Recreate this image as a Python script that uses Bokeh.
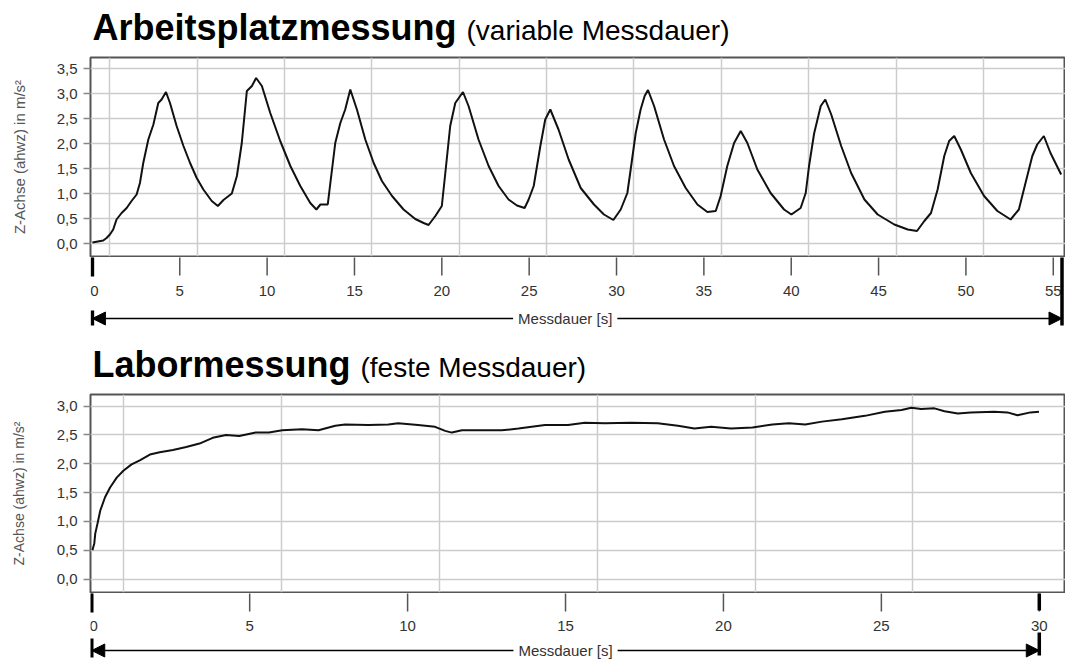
from bokeh.plotting import figure
from bokeh.models import (Range1d, FixedTicker, Label, Arrow, NormalHead, Grid,
                          CustomJSTickFormatter)
from bokeh.core.properties import value
from bokeh.layouts import column
from bokeh.embed import file_html
from bokeh.resources import INLINE

# ---------------- data ----------------
work_time = [0.0, 0.62, 0.81, 1.0, 1.19, 1.38, 1.67, 1.96, 2.24, 2.53, 2.72, 2.91, 3.2, 3.49, 3.77, 3.96, 4.21,
             4.44, 4.82, 5.21, 5.59, 5.97, 6.35, 6.83, 7.18,
             7.5, 7.98, 8.27, 8.55, 8.84, 9.13, 9.37,
             9.7, 10.18, 10.75, 11.33, 11.9, 12.47, 12.82,
             13.05, 13.47, 13.62, 13.9, 14.19, 14.47, 14.76,
             15.14, 15.62, 16.1, 16.57, 17.15, 17.81, 18.48, 18.96, 19.24,
             19.63, 20.0, 20.2, 20.48, 20.77, 21.21,
             21.53, 22.1, 22.68, 23.25, 23.82, 24.3, 24.74,
             24.97, 25.26, 25.64, 25.92, 26.21,
             26.68, 27.26, 27.95, 28.71, 29.28, 29.82,
             30.24, 30.62, 30.81, 31.1, 31.38, 31.61, 31.8,
             32.15, 32.72, 33.29, 33.96, 34.63, 35.2, 35.68,
             35.96, 36.34, 36.73, 37.11,
             37.49, 38.06, 38.82, 39.59, 40.01,
             40.54, 40.83, 41.02, 41.31, 41.69, 41.95,
             42.29, 42.86, 43.43, 44.19, 44.95, 45.9, 46.67, 47.2,
             47.62, 48.0, 48.38, 48.76, 49.04, 49.33,
             49.71, 50.28, 51.04, 51.8, 52.56,
             53.03, 53.41, 53.8, 54.08, 54.46,
             54.84, 55.45]
work_value = [0.02, 0.06, 0.11, 0.18, 0.28, 0.48, 0.61, 0.71, 0.85, 0.98, 1.21, 1.61, 2.08, 2.38, 2.81, 2.88, 3.03,
              2.81, 2.35, 1.95, 1.61, 1.31, 1.08, 0.85, 0.75,
              0.87, 1.0, 1.35, 2.01, 3.05, 3.15, 3.31,
              3.15, 2.61, 2.05, 1.55, 1.15, 0.81, 0.68,
              0.78, 0.78, 1.21, 2.01, 2.41, 2.68, 3.08,
              2.68, 2.08, 1.61, 1.25, 0.95, 0.68, 0.49, 0.41, 0.37,
              0.55, 0.75, 1.41, 2.35, 2.81, 3.03,
              2.75, 2.08, 1.55, 1.15, 0.88, 0.76, 0.71,
              0.88, 1.15, 1.95, 2.48, 2.68,
              2.28, 1.68, 1.11, 0.78, 0.58, 0.47,
              0.68, 1.01, 1.48, 2.21, 2.68, 2.95, 3.07,
              2.75, 2.08, 1.55, 1.11, 0.78, 0.63, 0.65,
              0.95, 1.55, 2.01, 2.25,
              2.01, 1.48, 1.01, 0.68, 0.58,
              0.71, 1.01, 1.55, 2.2, 2.75, 2.88,
              2.58, 1.95, 1.41, 0.88, 0.58, 0.38, 0.28, 0.25,
              0.45, 0.61, 1.08, 1.75, 2.05, 2.15,
              1.88, 1.41, 0.95, 0.65, 0.48,
              0.68, 1.21, 1.75, 1.98, 2.15,
              1.81, 1.38]

lab_time = [0.02, 0.08, 0.11, 0.18, 0.27, 0.42, 0.58, 0.79, 1.0, 1.26, 1.52, 1.84, 2.15, 2.57, 2.99,
            3.41, 3.83, 4.25, 4.67, 5.19, 5.61, 6.03, 6.66, 7.18, 7.71, 8.02, 8.76, 9.39, 9.7,
            10.33, 10.87, 11.19, 11.4, 11.72, 12.45, 12.98, 13.51, 14.35, 15.08, 15.61, 16.24,
            17.08, 17.92, 18.56, 19.08, 19.61, 20.24, 20.92, 21.55, 22.07, 22.59, 23.12, 23.75,
            24.48, 25.11, 25.64, 25.95, 26.26, 26.68, 27.0, 27.42, 27.83, 28.57, 28.99, 29.31,
            29.72, 29.99]
lab_value = [0.5, 0.62, 0.79, 0.96, 1.19, 1.42, 1.59, 1.76, 1.88, 1.99, 2.06, 2.16, 2.2, 2.24, 2.29,
             2.35, 2.45, 2.5, 2.48, 2.54, 2.54, 2.58, 2.6, 2.58, 2.66, 2.68, 2.67, 2.68, 2.7,
             2.67, 2.64, 2.57, 2.54, 2.58, 2.58, 2.58, 2.61, 2.67, 2.67, 2.71, 2.7,
             2.71, 2.7, 2.66, 2.61, 2.64, 2.61, 2.63, 2.68, 2.7, 2.68, 2.73, 2.77,
             2.83, 2.9, 2.93, 2.97, 2.95, 2.96, 2.91, 2.87, 2.89, 2.9, 2.89, 2.84,
             2.89, 2.9]

work_duration = 55.5
lab_duration = 30

work_xticks = [0, 5, 10, 15, 20, 25, 30, 35, 40, 45, 50, 55]
work_xgrid = [1, 6, 11, 16, 21, 26, 31, 36, 41, 46, 51]
work_yticks = [0.0, 0.5, 1.0, 1.5, 2.0, 2.5, 3.0, 3.5]
lab_xticks = [0, 5, 10, 15, 20, 25, 30]
lab_xgrid = [1, 6, 11, 16, 21, 26]
lab_yticks = [0.0, 0.5, 1.0, 1.5, 2.0, 2.5, 3.0]

title_work = "Arbeitsplatzmessung"
subtitle_work = "(variable Messdauer)"
title_lab = "Labormessung"
subtitle_lab = "(feste Messdauer)"
x_title = "Messdauer [s]"
y_title = "Z-Achse (ahwz) in m/s²"

FONT = "Liberation Sans"
W = 1065
LEFT = 90


def title_strip(height, baseline, title, subtitle, sub_offset):
    # x data = pixels right of the frame's left edge, y data = pixels from the top
    s = figure(width=W, height=height, output_backend="svg", toolbar_location=None,
               x_range=Range1d(0, W - LEFT), y_range=Range1d(height, 0),
               x_axis_type=None, y_axis_type=None,
               min_border_left=LEFT, min_border_right=0, min_border_top=0, min_border_bottom=0)
    s.outline_line_color = None
    # texts are vertically centred on their capitals: half the cap height above the baseline
    s.text(x=[2], y=[baseline - 13], text=[title], text_font=value(FONT), text_font_style="bold",
           text_font_size="36px", text_color="black", text_baseline="middle")
    s.text(x=[2 + sub_offset], y=[baseline - 10], text=[subtitle], text_font=value(FONT),
           text_font_size="28px", text_color="black", text_baseline="middle")
    return s


def main_plot(t, v, xr, yr, xgrid, yticks, frame_h, ylab_size, ylab_standoff):
    p = figure(width=W, height=frame_h + 2, output_backend="svg", toolbar_location=None,
               x_range=xr, y_range=Range1d(*yr), x_axis_type=None,
               min_border_left=LEFT, min_border_right=0, min_border_top=1, min_border_bottom=1)
    p.background_fill_color = "white"
    p.outline_line_color = "#555555"
    p.outline_line_width = 2

    p.add_layout(Grid(dimension=0, ticker=FixedTicker(ticks=xgrid),
                      grid_line_color="#cccccc", grid_line_width=1.5))
    p.ygrid.grid_line_color = "#cccccc"
    p.ygrid.grid_line_width = 1.5

    ya = p.yaxis[0]
    ya.ticker = FixedTicker(ticks=yticks)
    ya.formatter = CustomJSTickFormatter(code="return tick.toFixed(1).replace('.', ',');")
    ya.axis_line_color = None
    ya.major_tick_in = 0
    ya.major_tick_out = 7
    ya.major_tick_line_color = "#888888"
    ya.major_tick_line_width = 1.5
    ya.minor_tick_line_color = None
    ya.major_label_standoff = 6
    ya.major_label_text_font = FONT
    ya.major_label_text_font_size = "15px"
    ya.major_label_text_color = "#333333"
    ya.axis_label = y_title
    ya.axis_label_text_font = FONT
    ya.axis_label_text_font_style = "normal"
    ya.axis_label_text_font_size = ylab_size
    ya.axis_label_text_color = "#555555"
    ya.axis_label_standoff = ylab_standoff

    p.line(t, v, line_color="#111111", line_width=2)
    return p


def axis_strip(xr, height, xticks, duration, label_y, arrow_y, left_bars, right_bars, label_shift):
    # y data = pixels below the main frame's bottom edge
    s = figure(width=W, height=height, output_backend="svg", toolbar_location=None,
               x_range=xr, y_range=Range1d(height + 1, 1),
               x_axis_type=None, y_axis_type=None,
               min_border_left=LEFT, min_border_right=0, min_border_top=0, min_border_bottom=0)
    s.outline_line_color = None
    n = len(xticks)
    s.segment(x0=xticks, y0=[0] * n, x1=xticks, y1=[19] * n,
              line_color="#555555", line_width=1.5)
    # the first label sits at the frame's left edge: nudge it inside so it is not cut
    s.text(x=xticks, y=[label_y] * n, text=[str(k) for k in xticks],
           x_offset=[2] + [0] * (n - 1),
           text_font=value(FONT), text_font_size="15px", text_color="#333333",
           text_align="center", text_baseline="middle")
    head = dict(size=13, fill_color="black", line_color="black")
    s.add_layout(Arrow(start=NormalHead(**head), end=NormalHead(**head),
                       x_start=0, y_start=arrow_y, x_end=duration, y_end=arrow_y,
                       line_color="black", line_width=1.5))
    s.add_layout(Label(x=duration / 2, y=arrow_y, x_offset=label_shift, text=x_title,
                       text_font=FONT, text_font_size="15px", text_color="#333333",
                       text_align="center", text_baseline="middle",
                       background_fill_color="white", padding=5))
    s.segment(x0=[0] * len(left_bars), y0=[a for a, b in left_bars],
              x1=[0] * len(left_bars), y1=[b for a, b in left_bars],
              line_color="black", line_width=3.5)
    s.segment(x0=[duration] * len(right_bars), y0=[a for a, b in right_bars],
              x1=[duration] * len(right_bars), y1=[b for a, b in right_bars],
              line_color="black", line_width=3.5)
    return s


xr1 = Range1d(-0.11, 55.7)
xr2 = Range1d(-0.04, 30.83)

t1 = title_strip(56, 40, title_work, subtitle_work, 374)
m1 = main_plot(work_time, work_value, xr1, (-0.26, 3.72), work_xgrid, work_yticks, 199, "15px", 26)
a1 = axis_strip(xr1, 81, work_xticks, work_duration, 34, 62,
                [(0, 20), (54, 69)], [(0, 69)], -12)

t2 = title_strip(55, 39, title_lab, subtitle_lab, 268)
m2 = main_plot(lab_time, lab_value, xr2, (-0.23, 3.2), lab_xgrid, lab_yticks, 198, "14px", 27)
a2 = axis_strip(xr2, 68, lab_xticks, lab_duration, 33, 58,
                [(0, 20), (46, 65)], [(0, 18), (40, 63)], 0)

layout = column(t1, m1, a1, t2, m2, a2)
open("out.html", "w").write(file_html(layout, INLINE))
